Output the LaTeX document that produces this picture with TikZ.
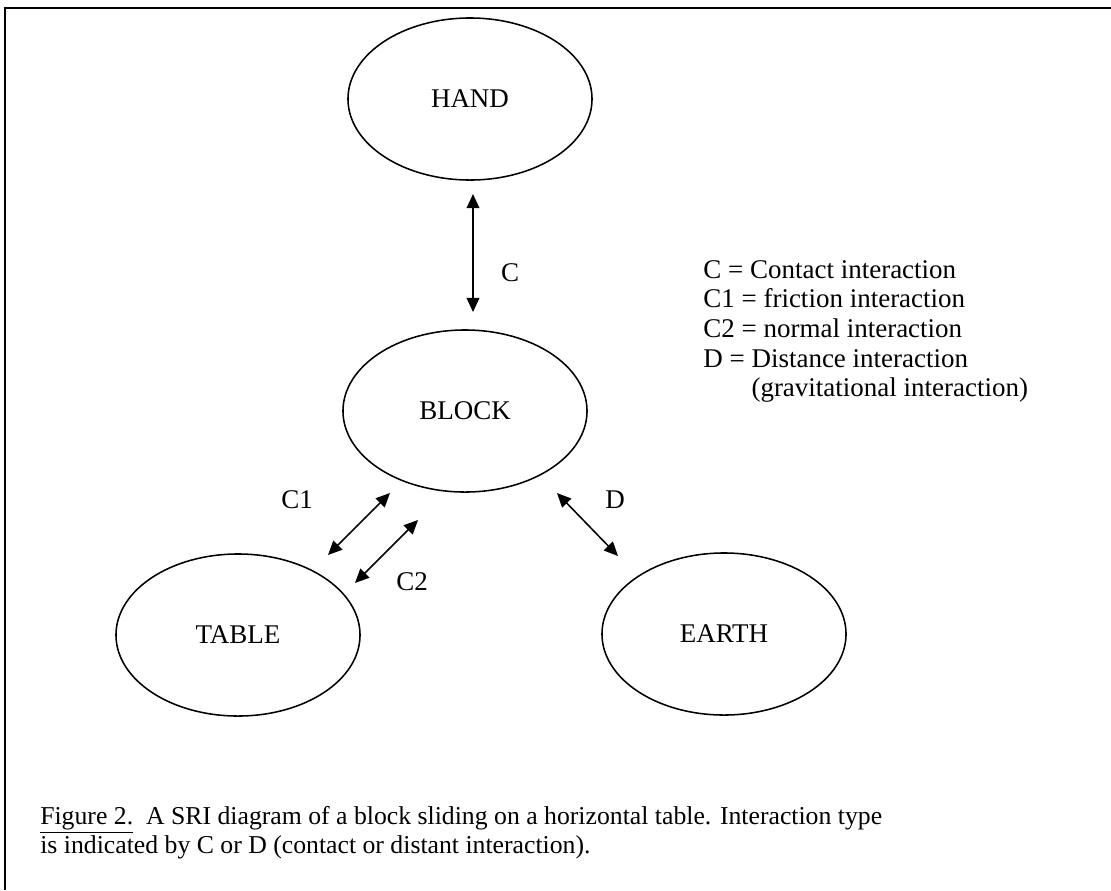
\documentclass[tikz,border=0pt]{standalone}
\usepackage{fontspec}
\setmainfont{Liberation Serif}
\usetikzlibrary{shapes.geometric,arrows.meta,positioning}

\begin{document}
\begin{tikzpicture}[x=0.025cm,y=-0.025cm,
    body/.style={draw,ellipse,line width=1.1pt,inner sep=0pt,
      minimum width=6.1cm,minimum height=4.05cm},
    link/.style={{Triangle[length=10pt,width=9pt]}-{Triangle[length=10pt,width=9pt]},line width=1.1pt},
    every node/.style={font=\fontsize{19.2pt}{21.1pt}\selectfont}]
\useasboundingbox (0,0) rectangle (1111,890);
% frame of the figure
\draw[line width=1.4pt] (5,890) -- (5,8) -- (1111,8);
% the four bodies
\node[body] (hand) at (470,99) {HAND};
\node[body] (block) at (465,411) {BLOCK};
\node[body] (table) at (238,635) {TABLE};
\node[body] (earth) at (724,634) {EARTH};
% ends of the interaction arrows
\coordinate (c top) at (473,194);
\coordinate (c bot) at (473,312);
\coordinate (c1 a) at (328,555);
\coordinate (c1 b) at (390,493);
\coordinate (c2 a) at (355,583);
\coordinate (c2 b) at (418,520);
\coordinate (d a) at (557,493);
\coordinate (d b) at (618,556);
\draw[link] (c top) -- (c bot); % C
\draw[link] (c1 a) -- (c1 b); % C1
\draw[link] (c2 a) -- (c2 b); % C2
\draw[link] (d a) -- (d b); % D
%% Labels of the arrows
\node (lab c) at (510,273) {C};
\node (lab c1) at (297,500) {C1};
\node (lab c2) at (412,582) {C2};
\node (lab d) at (615,500) {D};
% key to the letters
\node[anchor=north west,align=left,inner sep=0pt] (key) at (703,260) {C = Contact interaction\\
C1 = friction interaction\\
C2 = normal interaction\\
D = Distance interaction\\
\phantom{D = }(gravitational interaction)};
% caption
\node[anchor=north west,align=left,inner sep=0pt,font=\fontsize{18.3pt}{20.5pt}\selectfont] (caption) at (40,806) {\underline{Figure 2.}\ \ A SRI diagram of a block sliding on a horizontal table. Interaction type\\
is indicated by C or D (contact or distant interaction).};
\end{tikzpicture}
\end{document}
